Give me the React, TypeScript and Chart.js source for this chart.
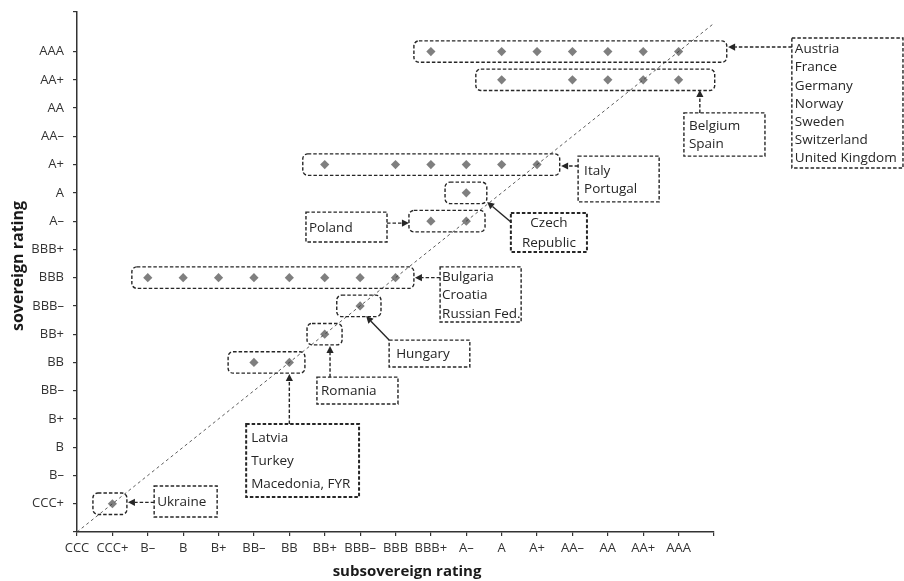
import React, { useEffect, useRef } from "react";
import { Chart, registerables } from "chart.js";

Chart.register(...registerables);

// Rating scale (index = numeric position on both axes)
const RATINGS = ["CCC", "CCC+", "B–", "B", "B+", "BB–", "BB", "BB+", "BBB–", "BBB", "BBB+", "A–", "A", "A+", "AA–", "AA", "AA+", "AAA"];

// Sovereign rating -> subsovereign ratings observed
const SOV_RATINGS = ["AAA", "AA+", "A+", "A", "A–", "BBB", "BBB–", "BB+", "BB", "CCC+"];
const SUBS_AAA = ["BBB+", "A", "A+", "AA–", "AA", "AA+", "AAA"];
const SUBS_AAP = ["A", "AA–", "AA", "AA+", "AAA"];
const SUBS_AP = ["BB+", "BBB", "BBB+", "A–", "A", "A+"];
const SUBS_A = ["A–"];
const SUBS_AM = ["BBB+", "A–"];
const SUBS_BBB = ["B–", "B", "B+", "BB–", "BB", "BB+", "BBB–", "BBB"];
const SUBS_BBBM = ["BBB–"];
const SUBS_BBP = ["BB+"];
const SUBS_BB = ["BB–", "BB"];
const SUBS_CCCP = ["CCC+"];
const SUBS = [SUBS_AAA, SUBS_AAP, SUBS_AP, SUBS_A, SUBS_AM, SUBS_BBB, SUBS_BBBM, SUBS_BBP, SUBS_BB, SUBS_CCCP];

// Horizontal extent (in rating units) of the dashed group frames, same order
const GROUP_FROM = [9.52, 11.27, 6.38, 10.4, 9.38, 1.55, 7.34, 6.5, 4.27, 0.45];
const GROUP_TO = [18.36, 18.02, 13.64, 11.58, 11.53, 9.52, 8.59, 7.49, 6.44, 1.41];

// Country label boxes (annotation layout in data units)
const LABEL_TEXT = [
  ["Austria", "France", "Germany", "Norway", "Sweden", "Switzerland", "United Kingdom"],
  ["Belgium", "Spain"],
  ["Italy", "Portugal"],
  ["Czech", "Republic"],
  ["Poland"],
  ["Bulgaria", "Croatia", "Russian Fed."],
  ["Hungary"],
  ["Romania"],
  ["Latvia", "Turkey", "Macedonia, FYR"],
  ["Ukraine"],
];

const LABEL_LAYOUT = [
  { box: [20.2, 23.34, 17.48, 12.88], gap: 18.2, pad: 3, thick: false, center: false, arrow: [20.2, 17.16, 18.4, 17.16], solid: false },
  { box: [17.15, 19.44, 14.83, 13.3], gap: 18, pad: 5, thick: false, center: false, arrow: [17.6, 14.83, 17.6, 15.64], solid: false },
  { box: [14.16, 16.45, 13.3, 11.68], gap: 18, pad: 6, thick: false, center: false, arrow: [14.16, 12.95, 13.68, 12.95], solid: false },
  { box: [12.26, 14.41, 11.29, 9.91], gap: 20, pad: 0, thick: true, center: true, arrow: [12.26, 10.97, 11.59, 11.68], solid: true },
  { box: [6.47, 8.76, 11.32, 10.26], gap: 18, pad: 3, thick: false, center: false, arrow: [8.76, 10.93, 9.38, 10.93], solid: false },
  { box: [10.26, 12.55, 9.38, 7.43], gap: 18.5, pad: 2, thick: false, center: false, arrow: [10.26, 9.0, 9.55, 9.0], solid: false },
  { box: [8.82, 11.1, 6.79, 5.84], gap: 18, pad: 7, thick: false, center: false, arrow: [8.82, 6.79, 8.17, 7.64], solid: true },
  { box: [6.78, 9.07, 5.48, 4.53], gap: 18, pad: 4, thick: false, center: false, arrow: [7.15, 5.48, 7.15, 6.58], solid: false },
  { box: [4.78, 7.97, 3.82, 1.24], gap: 23, pad: 5, thick: true, center: false, arrow: [6.0, 3.82, 6.0, 5.59], solid: false },
  { box: [2.18, 3.96, 1.63, 0.53], gap: 18, pad: 3, thick: false, center: false, arrow: [2.18, 1.05, 1.44, 1.05], solid: false },
];

const FONT = "'Open Sans', 'Noto Sans', sans-serif";
const INK = "#262626";
const DASH = [3.5, 2];

function drawArrow(ctx: CanvasRenderingContext2D, x1: number, y1: number, x2: number, y2: number, solid: boolean) {
  const ang = Math.atan2(y2 - y1, x2 - x1);
  const L = 7;
  const W = 3.6;
  const bx = x2 - L * Math.cos(ang);
  const by = y2 - L * Math.sin(ang);
  ctx.setLineDash(solid ? [] : DASH);
  ctx.beginPath();
  ctx.moveTo(x1, y1);
  ctx.lineTo(bx, by);
  ctx.stroke();
  ctx.setLineDash([]);
  ctx.beginPath();
  ctx.moveTo(x2, y2);
  ctx.lineTo(bx - W * Math.sin(ang), by + W * Math.cos(ang));
  ctx.lineTo(bx + W * Math.sin(ang), by - W * Math.cos(ang));
  ctx.closePath();
  ctx.fill();
}

const annotationPlugin = {
  id: "ratingAnnotations",
  afterDraw(chart: any) {
    const ctx: CanvasRenderingContext2D = chart.ctx;
    const xs = chart.scales.x;
    const ys = chart.scales.y;
    const px = (v: number) => xs.getPixelForValue(v);
    const py = (v: number) => ys.getPixelForValue(v);
    ctx.save();
    ctx.strokeStyle = INK;
    ctx.fillStyle = INK;

    // group frames
    ctx.lineWidth = 1.4;
    ctx.setLineDash(DASH);
    SOV_RATINGS.forEach((sov, i) => {
      const yv = RATINGS.indexOf(sov);
      const x1 = px(GROUP_FROM[i]);
      const x2 = px(GROUP_TO[i]);
      const y1 = py(yv + 0.38);
      const y2 = py(yv - 0.38);
      ctx.beginPath();
      (ctx as any).roundRect(x1, y1, x2 - x1, y2 - y1, 5);
      ctx.stroke();
    });

    // label boxes, texts, arrows
    ctx.font = `13.5px ${FONT}`;
    ctx.textBaseline = "middle";
    LABEL_LAYOUT.forEach((lay, i) => {
      const [bx1, bx2, by1, by2] = lay.box;
      const x1 = px(bx1);
      const x2 = px(bx2);
      const y1 = py(by1);
      const y2 = py(by2);
      ctx.lineWidth = lay.thick ? 2 : 1.4;
      ctx.setLineDash(DASH);
      ctx.strokeRect(x1, y1, x2 - x1, y2 - y1);
      const lines = LABEL_TEXT[i];
      const midY = (y1 + y2) / 2;
      const start = midY - ((lines.length - 1) * lay.gap) / 2;
      ctx.textAlign = lay.center ? "center" : "left";
      const tx = lay.center ? (x1 + x2) / 2 : x1 + lay.pad;
      lines.forEach((t, k) => ctx.fillText(t, tx, start + k * lay.gap + 1));
      ctx.lineWidth = 1.4;
      const [ax1, ay1, ax2, ay2] = lay.arrow;
      drawArrow(ctx, px(ax1), py(ay1), px(ax2), py(ay2), lay.solid);
    });

    // axis titles
    ctx.setLineDash([]);
    ctx.fillStyle = "#1a1a1a";
    ctx.textAlign = "center";
    ctx.font = `bold 15px ${FONT}`;
    ctx.fillText("subsovereign rating", 407, 572);
    ctx.translate(18, 266);
    ctx.rotate(-Math.PI / 2);
    ctx.font = `bold 16px ${FONT}`;
    ctx.fillText("sovereign rating", 0, 0);
    ctx.restore();
  },
};

export default function App() {
  const ref = useRef<HTMLCanvasElement | null>(null);

  useEffect(() => {
    if (!ref.current) return;
    const points: { x: number; y: number }[] = [];
    SOV_RATINGS.forEach((sov, i) => {
      SUBS[i].forEach((s) => points.push({ x: RATINGS.indexOf(s), y: RATINGS.indexOf(sov) }));
    });
    const last = RATINGS.length; // 18

    const chart = new Chart(ref.current, {
      type: "scatter",
      data: {
        datasets: [
          {
            type: "line",
            data: [
              { x: 0, y: 0 },
              { x: last, y: last },
            ],
            borderColor: "#333",
            borderWidth: 0.8,
            borderDash: [3, 3],
            pointRadius: 0,
            fill: false,
          } as any,
          {
            data: points,
            pointStyle: "rectRot",
            pointRadius: 4.6,
            pointBackgroundColor: "#7f7f7f",
            pointBorderColor: "#7f7f7f",
            pointBorderWidth: 0,
          },
        ],
      },
      options: {
        responsive: false,
        animation: false,
        layout: { padding: { left: 0, top: 12, right: 190, bottom: 0 } },
        plugins: { legend: { display: false }, tooltip: { enabled: false } },
        scales: {
          x: {
            type: "linear",
            min: 0,
            max: last,
            afterFit: (s: any) => {
              s.height = 49;
              s.paddingLeft = 0;
              s.paddingRight = 0;
            },
            afterBuildTicks: (s: any) => {
              s.ticks = Array.from({ length: last + 1 }, (_, v) => ({ value: v }));
            },
            ticks: {
              autoSkip: false,
              maxRotation: 0,
              padding: 4,
              color: "#333",
              font: { family: FONT, size: 13 },
              callback: (v: any) => (Number.isInteger(v) && v < last ? RATINGS[v] : ""),
            },
            grid: { drawOnChartArea: false, drawTicks: true, tickLength: 4, color: "#333", lineWidth: 1.2 },
            border: { color: "#333", width: 1.5 },
          },
          y: {
            type: "linear",
            min: 0,
            max: 18.4,
            afterFit: (s: any) => {
              s.width = 77;
              s.paddingTop = 0;
              s.paddingBottom = 0;
            },
            afterBuildTicks: (s: any) => {
              const t = Array.from({ length: last }, (_, v) => ({ value: v }));
              t.push({ value: 18.4 });
              s.ticks = t;
            },
            ticks: {
              autoSkip: false,
              padding: 9,
              color: "#333",
              font: { family: FONT, size: 13 },
              callback: (v: any) => (Number.isInteger(v) && v >= 1 && v < last ? RATINGS[v] : ""),
            },
            grid: { drawOnChartArea: false, drawTicks: true, tickLength: 4, color: "#333", lineWidth: 1.2 },
            border: { color: "#333", width: 1.5 },
          },
        },
      },
      plugins: [annotationPlugin],
    });
    return () => chart.destroy();
  }, []);

  return (
    <div style={{ position: "absolute", left: 0, top: 0, width: 904, height: 581, background: "#fff" }}>
      <canvas ref={ref} width={904} height={581} />
    </div>
  );
}
